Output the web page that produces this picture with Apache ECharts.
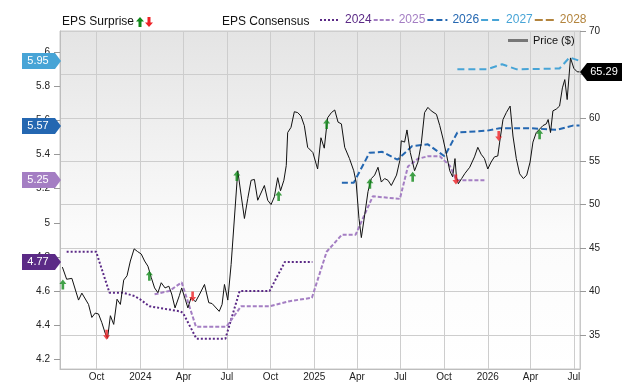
<!DOCTYPE html>
<html>
<head>
<meta charset="utf-8">
<script src="https://cdn.jsdelivr.net/npm/echarts@6/dist/echarts.min.js"></script>
<style>
  html, body { margin: 0; padding: 0; background: #fff; }
  #chart { width: 640px; height: 382px; }
</style>
</head>
<body>
<div id="chart"></div>
<script>
// price ($), right axis
const priceDates = ['2023-07-21','2023-07-30','2023-08-10','2023-08-24','2023-08-31','2023-09-14','2023-09-21','2023-09-28',
  '2023-10-05','2023-10-12','2023-10-19','2023-10-24','2023-10-30','2023-11-06','2023-11-13','2023-11-20','2023-11-27',
  '2023-12-04','2023-12-11','2023-12-19','2023-12-26','2024-01-03','2024-01-10','2024-01-17','2024-01-24','2024-01-31',
  '2024-02-07','2024-02-14','2024-02-22','2024-03-01','2024-03-07','2024-03-14','2024-03-23','2024-03-28','2024-04-05',
  '2024-04-10','2024-04-17','2024-04-26','2024-05-05','2024-05-15','2024-05-24','2024-05-31','2024-06-15','2024-06-21',
  '2024-06-26','2024-07-03','2024-07-10','2024-07-24','2024-07-31','2024-08-07','2024-08-14','2024-08-21','2024-08-28',
  '2024-09-04','2024-09-18','2024-09-25','2024-10-02','2024-10-09','2024-10-16','2024-10-22','2024-10-29','2024-11-03',
  '2024-11-06','2024-11-13','2024-11-20','2024-11-27','2024-12-04','2024-12-11','2024-12-18','2024-12-29','2025-01-08',
  '2025-01-15','2025-01-22','2025-01-29','2025-02-06','2025-02-13','2025-02-20','2025-02-27','2025-03-06','2025-03-16',
  '2025-03-25','2025-03-30','2025-04-05','2025-04-10','2025-04-17','2025-04-24','2025-05-01','2025-05-08','2025-05-15',
  '2025-05-22','2025-05-29','2025-06-05','2025-06-12','2025-06-23','2025-06-30','2025-07-03','2025-07-10','2025-07-15',
  '2025-07-22','2025-07-31','2025-08-07','2025-08-14','2025-08-21','2025-08-28','2025-09-04','2025-09-15','2025-09-22',
  '2025-09-29','2025-10-06','2025-10-13','2025-10-19','2025-10-24','2025-10-27','2025-10-31','2025-11-07','2025-11-14',
  '2025-11-24','2025-12-04','2025-12-11','2025-12-18','2025-12-25','2026-01-01','2026-01-08','2026-01-15','2026-01-22',
  '2026-01-26','2026-02-02','2026-02-09','2026-02-17','2026-02-23','2026-03-02','2026-03-09','2026-03-17','2026-03-24',
  '2026-03-31','2026-04-06','2026-04-13','2026-04-20','2026-04-27','2026-05-04','2026-05-08','2026-05-13','2026-05-18',
  '2026-05-25','2026-06-01','2026-06-07','2026-06-12','2026-06-17','2026-06-24','2026-07-01','2026-07-08','2026-07-13'];
const priceValues = [42.8,41.4,41.5,39.0,39.8,38.5,37.0,37.5,
  37.4,36.4,35.2,34.6,37.2,36.2,39.1,38.5,41.3,
  41.8,43.5,44.9,44.6,44.3,43.5,42.9,41.6,40.4,
  39.85,41.0,40.4,40.6,39.7,38.1,39.5,40.4,39.0,
  38.1,39.3,38.8,39.7,40.8,38.7,38.6,37.7,38.5,
  40.8,39.0,43.1,53.9,51.1,48.4,50.7,52.8,52.9,
  50.5,52.2,50.5,50.0,50.9,53.1,51.6,52.8,54.5,
  58.3,58.9,60.7,60.6,60.2,59.1,56.6,56.0,54.1,
  57.7,56.5,60.0,60.6,60.9,59.5,59.3,56.6,55.3,
  53.9,52.6,48.4,46.2,48.8,51.5,53.0,53.4,54.3,
  52.6,53.0,52.8,52.2,53.4,55.1,57.35,57.2,58.6,
  56.0,53.9,54.9,57.0,60.6,61.2,60.8,60.4,59.1,
  57.55,55.8,53.9,53.2,55.3,53.2,52.4,53.0,53.6,
  54.3,55.5,56.6,55.8,55.3,54.1,54.9,55.5,55.6,
  57.2,59.8,60.6,61.35,57.9,55.3,53.55,53.0,53.4,
  54.9,57.2,58.3,58.7,59.1,59.3,59.8,58.3,60.8,
  61.0,61.35,63.45,64.4,62.1,66.9,65.7,65.3,65.29];

// EPS consensus by fiscal year, left axis
const eps2024Dates = ['2023-07-30','2023-09-30','2023-10-28','2023-11-25','2023-12-20','2024-01-01','2024-01-20','2024-03-25',
  '2024-03-31','2024-04-28','2024-06-28','2024-07-28','2024-09-29','2024-10-31','2024-12-28'];
const eps2024Values = [4.83,4.83,4.59,4.59,4.57,4.55,4.51,4.48,4.47,4.32,4.32,4.60,4.60,4.77,4.77];

const eps2025Dates = ['2024-01-31','2024-03-02','2024-03-28','2024-04-27','2024-06-30','2024-07-31','2024-09-29','2024-11-10',
  '2024-12-27','2025-01-27','2025-02-28','2025-03-29','2025-05-04','2025-06-30','2025-07-17','2025-08-07','2025-08-28',
  '2025-09-22','2025-10-13','2025-10-27','2025-12-29'];
const eps2025Values = [4.58,4.60,4.65,4.39,4.39,4.51,4.51,4.54,4.56,4.83,4.93,4.93,5.155,5.14,5.33,5.375,5.39,5.39,5.335,5.25,5.25];

const eps2026Dates = ['2025-02-28','2025-03-25','2025-04-27','2025-05-24','2025-06-25','2025-07-26','2025-08-28','2025-10-02',
  '2025-10-29','2025-12-30','2026-01-26','2026-03-30','2026-05-26','2026-06-29','2026-07-13'];
const eps2026Values = [5.235,5.235,5.41,5.416,5.37,5.45,5.46,5.39,5.53,5.54,5.555,5.555,5.545,5.57,5.57];

const eps2027Dates = ['2025-10-29','2025-12-30','2026-01-31','2026-03-03','2026-06-01','2026-06-22','2026-07-13'];
const eps2027Values = [5.90,5.90,5.93,5.90,5.905,5.97,5.95];

const eps2028Dates = [];
const eps2028Values = [];

// EPS surprise markers, placed on the price scale
const beatDates = ['2023-07-22','2024-01-20','2024-07-22','2024-10-18','2025-01-27','2025-04-28','2025-07-27','2026-04-20'];
const beatValues = [40.8,41.8,53.3,51.0,59.3,52.4,53.2,58.1];
const missDates = ['2023-10-22','2024-04-20','2025-10-26','2026-01-24'];
const missValues = [35.0,39.4,52.9,57.9];

const xTicks = ['2023-10-01','2024-01-01','2024-04-01','2024-07-01','2024-10-01','2025-01-01','2025-04-01',
  '2025-07-01','2025-10-01','2026-01-01','2026-04-01','2026-07-01'];
const epsTicks = [4.2, 4.4, 4.6, 4.8, 5, 5.2, 5.4, 5.6, 5.8, 6];
const priceTicks = [35, 40, 45, 50, 55, 60, 65, 70];

const colors = {
  '2024': '#5b2a86',
  '2025': '#a47ec3',
  '2026': '#2467b1',
  '2027': '#47a4d6',
  '2028': '#b3843d'
};
const FONT = '"Liberation Sans", Arial, sans-serif';
const months = ['Jan','Feb','Mar','Apr','May','Jun','Jul','Aug','Sep','Oct','Nov','Dec'];
const UP_PTS = [[4, 0], [8, 4.5], [5.5, 4.5], [5.5, 10], [2.5, 10], [2.5, 4.5], [0, 4.5]];
const DOWN_PTS = [[2.5, 0], [5.5, 0], [5.5, 5.5], [8, 5.5], [4, 10], [0, 5.5], [2.5, 5.5]];
const ptsToPath = pts => 'path://M' + pts.map(p => p.join(',')).join(' L') + ' Z';

const ts = s => new Date(s + 'T00:00:00').getTime();
const zip = (d, v) => d.map((x, i) => [ts(x), v[i]]);

const chart = echarts.init(document.getElementById('chart'));

function epsSeries(year, dates, values, dash) {
  return {
    name: year,
    type: 'line',
    yAxisIndex: 0,
    data: zip(dates, values),
    symbol: 'none',
    color: colors[year],
    lineStyle: { color: colors[year], width: 2, type: dash }
  };
}

chart.setOption({
  animation: false,
  textStyle: { fontFamily: FONT },
  grid: {
    left: 60, right: 60, top: 31, bottom: 10,
    show: true,
    borderColor: '#c8c8c8',
    borderWidth: 1,
    backgroundColor: new echarts.graphic.LinearGradient(0, 0, 0, 1, [
      { offset: 0, color: '#e4e4e4' },
      { offset: 0.6, color: '#fbfbfb' },
      { offset: 1, color: '#ffffff' }
    ])
  },
  legend: [
    {
      left: 319, top: 14, padding: 0,
      itemWidth: 20, itemHeight: 10, itemGap: 1,
      selectedMode: false,
      itemStyle: { opacity: 0 },
      textStyle: { fontSize: 12, fontFamily: FONT },
      data: ['2024', '2025', '2026', '2027', '2028'].map(y => ({ name: y, textStyle: { color: colors[y] } }))
    },
    {
      left: 508, top: 35, padding: 0,
      itemWidth: 20, itemHeight: 3,
      selectedMode: false,
      icon: 'rect',
      textStyle: { fontSize: 11, color: '#111', fontFamily: FONT },
      data: [{ name: 'Price ($)', itemStyle: { color: '#777' } }]
    }
  ],
  xAxis: {
    type: 'value',
    min: ts('2023-07-16'),
    max: ts('2026-07-14'),
    axisLine: { lineStyle: { color: '#bdbdbd' } },
    axisTick: { show: false, customValues: xTicks.map(ts) },
    splitLine: { show: true, lineStyle: { color: '#cdcdcd' } },
    axisLabel: {
      customValues: xTicks.map(ts),
      margin: 3,
      fontSize: 10,
      color: '#222',
      hideOverlap: false,
      formatter: v => {
        const d = new Date(v);
        return d.getMonth() === 0 ? String(d.getFullYear()) : months[d.getMonth()];
      }
    }
  },
  yAxis: [
    {
      type: 'value',
      position: 'left',
      min: 4.142,
      max: 6.125,
      axisLine: { show: true, lineStyle: { color: '#bdbdbd' } },
      axisTick: { show: true, length: 6, customValues: epsTicks, lineStyle: { color: '#999' } },
      splitLine: { show: false },
      axisLabel: { customValues: epsTicks, margin: 10, fontSize: 10, color: '#222', formatter: v => String(v) }
    },
    {
      type: 'value',
      position: 'right',
      min: 31.06,
      max: 70,
      axisLine: { show: true, lineStyle: { color: '#c8c8c8' } },
      axisTick: { show: true, length: 6, customValues: priceTicks, lineStyle: { color: '#999' } },
      splitLine: { show: true, lineStyle: { color: '#cdcdcd' } },
      axisLabel: { customValues: priceTicks, margin: 9, fontSize: 10, color: '#222' }
    }
  ],
  series: [
    epsSeries('2024', eps2024Dates, eps2024Values, [2, 2]),
    epsSeries('2025', eps2025Dates, eps2025Values, [4, 2]),
    epsSeries('2026', eps2026Dates, eps2026Values, [6, 3]),
    epsSeries('2027', eps2027Dates, eps2027Values, [7, 4]),
    epsSeries('2028', eps2028Dates, eps2028Values, [8, 3]),
    {
      name: 'Price ($)',
      type: 'line',
      yAxisIndex: 1,
      data: zip(priceDates, priceValues),
      symbol: 'none',
      color: '#111',
      lineStyle: { color: '#111', width: 1 },
      z: 3
    },
    {
      name: 'Beat',
      type: 'scatter',
      yAxisIndex: 1,
      data: zip(beatDates, beatValues),
      symbol: ptsToPath(UP_PTS),
      symbolSize: [7, 10],
      itemStyle: { color: '#11891a' },
      z: 5
    },
    {
      name: 'Miss',
      type: 'scatter',
      yAxisIndex: 1,
      data: zip(missDates, missValues),
      symbol: ptsToPath(DOWN_PTS),
      symbolSize: [7, 10],
      itemStyle: { color: '#ee2226' },
      z: 5
    }
  ]
});

// value badges: last EPS per year on the left, last price on the right
const badges = [];
[['2027', eps2027Values], ['2026', eps2026Values], ['2025', eps2025Values], ['2024', eps2024Values]].forEach(([y, vals]) => {
  const v = vals[vals.length - 1];
  const py = Math.round(chart.convertToPixel({ yAxisIndex: 0 }, v));
  badges.push({
    type: 'polygon',
    z: 100,
    shape: { points: [[22, py - 8], [55, py - 8], [61, py], [55, py + 8], [22, py + 8]] },
    style: { fill: colors[y] }
  });
  badges.push({
    type: 'text',
    z: 101,
    x: 38, y: py,
    style: { text: v.toFixed(2), fill: '#fff', font: '11px ' + FONT, align: 'center', verticalAlign: 'middle' }
  });
});

const lastPrice = priceValues[priceValues.length - 1];
const ppy = Math.round(chart.convertToPixel({ yAxisIndex: 1 }, lastPrice));

chart.setOption({
  graphic: [
    {
      type: 'text', x: 62, y: 22,
      style: { text: 'EPS Surprise', fill: '#111', font: '12px ' + FONT, verticalAlign: 'middle' }
    },
    {
      type: 'polygon', x: 136, y: 17,
      shape: { points: UP_PTS },
      style: { fill: '#11891a' }
    },
    {
      type: 'polygon', x: 145, y: 17,
      shape: { points: DOWN_PTS },
      style: { fill: '#ee2226' }
    },
    {
      type: 'text', x: 222, y: 22,
      style: { text: 'EPS Consensus', fill: '#111', font: '12px ' + FONT, verticalAlign: 'middle' }
    },
    ...badges,
    {
      type: 'polygon',
      z: 100,
      shape: { points: [[580, ppy], [587, ppy - 9], [622, ppy - 9], [622, ppy + 9], [587, ppy + 9]] },
      style: { fill: '#000' }
    },
    {
      type: 'text', x: 604, y: ppy,
      z: 101,
      style: { text: lastPrice.toFixed(2), fill: '#fff', font: '11px ' + FONT, align: 'center', verticalAlign: 'middle' }
    }
  ]
});
</script>
</body>
</html>
